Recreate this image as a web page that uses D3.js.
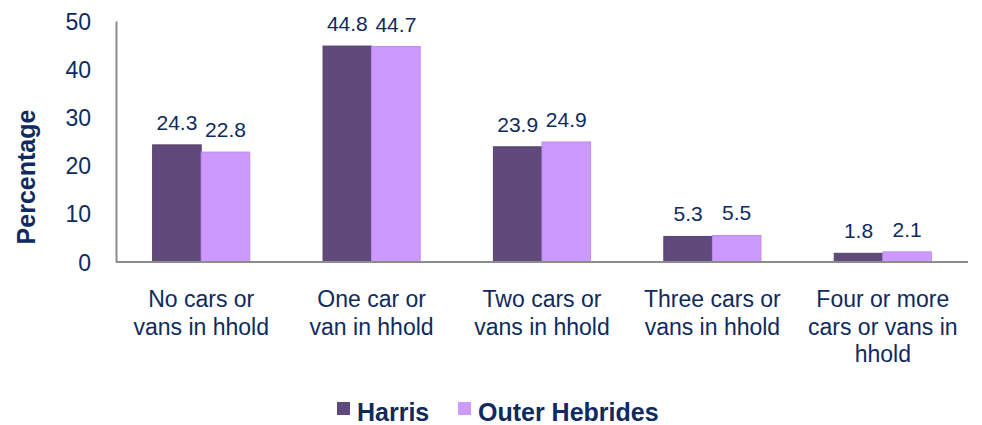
<!DOCTYPE html>
<html>
<head>
<meta charset="utf-8">
<script src="https://cdn.jsdelivr.net/npm/d3@7"></script>
<style>
  body { margin: 0; background: #fff; }
  text { font-family: "Liberation Sans", Arial, sans-serif; fill: #0E2A5E; }
</style>
</head>
<body>
<svg id="chart" width="982" height="425"></svg>
<script>
"use strict";

const categories = [
  ["No cars or", "vans in hhold"],
  ["One car or", "van in hhold"],
  ["Two cars or", "vans in hhold"],
  ["Three cars or", "vans in hhold"],
  ["Four or more", "cars or vans in", "hhold"],
];
const seriesNames = ["Harris", "Outer Hebrides"];
const harris = [24.3, 44.8, 23.9, 5.3, 1.8];
const outerHebrides = [22.8, 44.7, 24.9, 5.5, 2.1];
const yTicks = [0, 10, 20, 30, 40, 50];

const colors = ["#604A7B", "#CC99FF"];
const strokes = ["#54406C", "#BF8CF2"];

const margins = {top: 21, right: 14, bottom: 163, left: 116};
const svg = d3.select("#chart");
const width = 982 - margins.left - margins.right;
const height = 425 - margins.top - margins.bottom;

const g = svg.append("g")
  .attr("transform", `translate(${margins.left}, ${margins.top})`);

const x0 = d3.scaleBand()
  .domain(d3.range(categories.length))
  .range([0, width])
  .paddingInner(0.43)
  .paddingOuter(0.215);

const x1 = d3.scaleBand()
  .domain(d3.range(seriesNames.length))
  .range([0, x0.bandwidth()]);

const y = d3.scaleLinear().domain([0, 50]).range([height, 0]);

// y axis
const yAxis = g.append("g")
  .call(d3.axisLeft(y).tickValues(yTicks).tickSize(0).tickPadding(25));
yAxis.select(".domain").attr("stroke", "#8C8C8C").attr("stroke-width", 2);
yAxis.selectAll("text")
  .style("font-size", "23px")
  .attr("fill", "#0E2A5E")
  .attr("dy", "0.35em");

g.append("text")
  .attr("transform", `translate(${26 - margins.left}, ${177 - margins.top}) rotate(-90)`)
  .attr("text-anchor", "middle")
  .attr("dy", "0.35em")
  .style("font-size", "25px")
  .style("font-weight", "bold")
  .text("Percentage");

const data = [harris, outerHebrides];

// bars
data.forEach((values, s) => {
  g.append("g")
    .selectAll("rect")
    .data(values)
    .join("rect")
    .attr("x", (d, i) => x0(i) + x1(s))
    .attr("y", d => y(d))
    .attr("width", x1.bandwidth())
    .attr("height", d => height - y(d))
    .attr("fill", colors[s])
    .attr("stroke", strokes[s])
    .attr("stroke-width", 1);

  g.append("g")
    .selectAll("text")
    .data(values)
    .join("text")
    .attr("x", (d, i) => x0(i) + x1(s) + x1.bandwidth() / 2)
    .attr("y", d => y(d) - 15)
    .attr("text-anchor", "middle")
    .style("font-size", "21px")
    .text(d => d.toFixed(1));
});

// x axis
g.append("line")
  .attr("x1", 0)
  .attr("x2", width)
  .attr("y1", height)
  .attr("y2", height)
  .attr("stroke", "#8C8C8C")
  .attr("stroke-width", 2);

g.append("g")
  .selectAll("text")
  .data(categories)
  .join("text")
  .attr("text-anchor", "middle")
  .style("font-size", "23px")
  .each(function (lines, i) {
    d3.select(this).selectAll("tspan")
      .data(lines)
      .join("tspan")
      .attr("x", x0(i) + x0.bandwidth() / 2)
      .attr("y", (l, j) => height + 45 + j * 27.5)
      .text(l => l);
  });

// legend
const legendItems = [
  {label: seriesNames[0], color: colors[0], x: 337},
  {label: seriesNames[1], color: colors[1], x: 458},
];
const legend = svg.append("g");
legend.selectAll("rect")
  .data(legendItems)
  .join("rect")
  .attr("x", d => d.x)
  .attr("y", 402)
  .attr("width", 13)
  .attr("height", 13)
  .attr("fill", d => d.color);
legend.selectAll("text")
  .data(legendItems)
  .join("text")
  .attr("x", d => d.x + 20)
  .attr("y", 421)
  .style("font-size", "25px")
  .style("font-weight", "bold")
  .text(d => d.label);
</script>
</body>
</html>
